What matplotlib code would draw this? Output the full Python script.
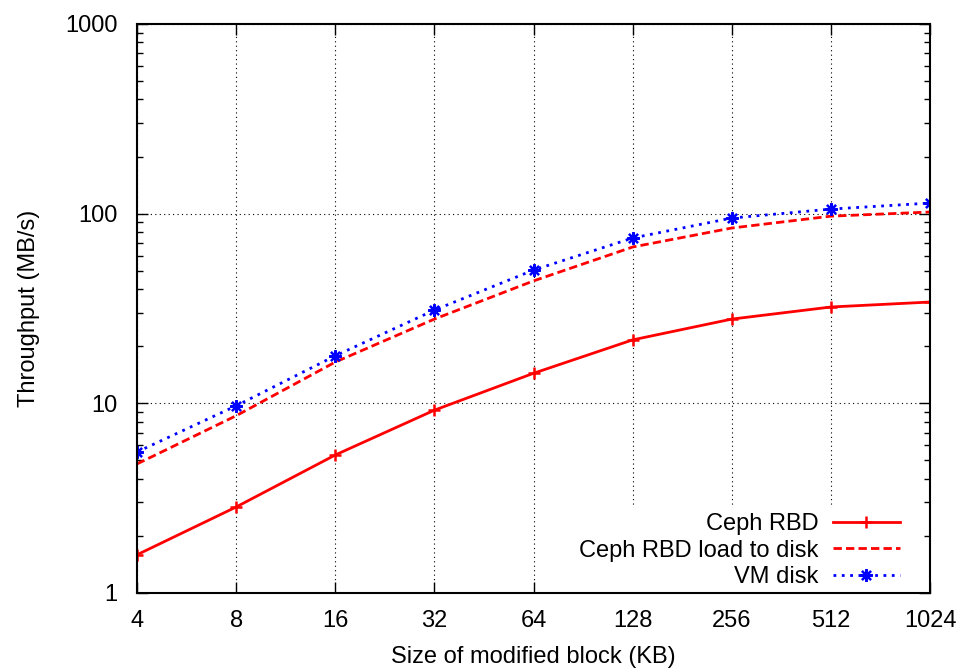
import numpy as np
import matplotlib.pyplot as plt

plt.rcParams['font.family'] = ['Liberation Sans', 'DejaVu Sans']

block_kb = [4, 8, 16, 32, 64, 128, 256, 512, 1024]
ceph_rbd = [1.59, 2.84, 5.34, 9.2, 14.4, 21.6, 27.8, 32.2, 34.2]
ceph_rbd_disk = [4.79, 8.6, 16.5, 27.8, 44.2, 66.7, 84, 97, 102]
vm_disk = [5.54, 9.7, 17.8, 31, 50.4, 74.4, 94.8, 105.7, 113.7]


def main():
    fig = plt.figure(figsize=(9.6, 6.68), dpi=100)
    ax = fig.add_axes([0.1427, 0.1123, 0.8261, 0.8518])

    ax.plot(block_kb, ceph_rbd, color='red', lw=2, marker='+', ms=9, mew=1.8,
            label='Ceph RBD')
    ax.plot(block_kb, ceph_rbd_disk, color='red', lw=2, ls=(0, (3, 1.5)),
            label='Ceph RBD load to disk')
    ax.plot(block_kb, vm_disk, color='blue', lw=2, ls=(0, (1, 2)),
            marker=(8, 2, 0), ms=9, mew=1.6, label='VM disk')

    ax.set_xscale('log', base=2)
    ax.set_yscale('log')
    ax.set_xlim(4, 1024)
    ax.set_ylim(1, 1000)
    ax.set_xticks(block_kb)
    ax.set_xticklabels([str(v) for v in block_kb])
    ax.set_yticks([1, 10, 100, 1000])
    ax.set_yticklabels(['1', '10', '100', '1000'])
    ax.xaxis.set_minor_locator(plt.NullLocator())

    ax.grid(True, which='major', color='black', ls=(0, (1, 3)), lw=0.8)
    ax.tick_params(which='both', direction='in', top=True, right=True,
                   labelsize=17, width=1)
    ax.tick_params(which='major', length=8)
    ax.tick_params(axis='y', which='major', pad=14)
    ax.tick_params(axis='x', which='major', pad=12)
    ax.tick_params(which='minor', length=4)
    for sp in ax.spines.values():
        sp.set_linewidth(1.5)

    ax.set_xlabel('Size of modified block (KB)', fontsize=17, labelpad=10)
    ax.set_ylabel('Throughput (MB/s)', fontsize=17, labelpad=18)

    leg = ax.legend(loc='lower right', bbox_to_anchor=(0.968, 0.0),
                    markerfirst=False, fontsize=17, frameon=True,
                    fancybox=False, handlelength=2.85, borderaxespad=0,
                    labelspacing=0.2, handletextpad=0.6, borderpad=0.2)
    leg.get_frame().set_edgecolor('none')
    leg.get_frame().set_alpha(1)
    leg.set_zorder(2)
    for t in leg.get_texts():
        t.set_ha('right')
    leg._legend_box.align = 'right'

    fig.savefig('out.png', dpi=100)


if __name__ == '__main__':
    main()
